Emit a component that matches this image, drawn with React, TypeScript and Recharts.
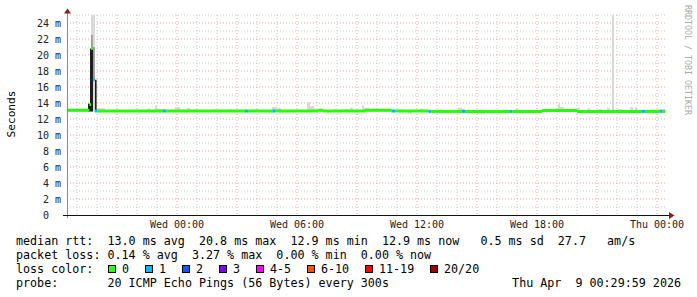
import React from "react";
import { ComposedChart, Area, XAxis, YAxis, CartesianGrid } from "recharts";

const MONO = "'DejaVu Sans Mono', monospace";

// x is hours since Tue 18:30, the graph spans 30 hours
const xTicks = [5.5, 11.5, 17.5, 23.5, 29.5];
const xTickLabels = ["Wed 00:00", "Wed 06:00", "Wed 12:00", "Wed 18:00", "Thu 00:00"];
const yTicks = [0, 2, 4, 6, 8, 10, 12, 14, 16, 18, 20, 22, 24];

// median rtt steps: [hour, ms, lost pings of 20]
const medianSteps: [number, number, number][] = [
  [0.0, 13.1, 0],
  [1.12, 13.8, 0],
  [1.2, 20.8, 0],
  [1.29, 16.9, 1],
  [1.39, 13.0, 1],
  [1.5, 13.0, 0],
  [4.8, 13.0, 1],
  [4.97, 13.0, 0],
  [8.9, 13.0, 1],
  [9.05, 13.0, 0],
  [10.27, 13.0, 1],
  [10.4, 13.0, 0],
  [12.55, 13.1, 0],
  [12.8, 13.0, 0],
  [14.9, 13.1, 0],
  [16.23, 13.0, 1],
  [16.4, 13.0, 0],
  [18.07, 12.95, 1],
  [18.23, 12.95, 0],
  [19.73, 12.95, 1],
  [19.9, 12.95, 0],
  [22.15, 12.95, 1],
  [22.28, 12.95, 0],
  [23.75, 13.05, 0],
  [25.5, 12.95, 0],
  [28.75, 12.95, 1],
  [28.9, 12.95, 0],
  [29.65, 12.95, 1],
  [29.78, 12.95, 0],
];
const medianEnd = 29.9;

// light smoke steps: [hour, low ms, high ms]
const smokeLight: [number, number, number][] = [
  [0.0, 12.9, 13.25], [0.25, 12.9, 13.1], [0.3, 12.9, 13.25], [0.5, 12.9, 13.1],
  [1.2, 12.9, 25.0], [1.4, 12.9, 13.1],
  [1.5, 12.9, 13.35], [1.9, 12.9, 13.1],
  [4.0, 12.9, 13.3], [4.15, 12.9, 13.1], [4.4, 12.9, 13.7], [4.5, 12.9, 13.25], [4.9, 12.9, 13.1],
  [5.4, 12.9, 13.5], [5.65, 12.9, 13.1], [6.0, 12.9, 13.4], [6.15, 12.9, 13.1],
  [6.4, 12.9, 13.25], [6.5, 12.9, 13.1], [7.25, 12.9, 13.2], [7.5, 12.9, 13.1],
  [8.0, 12.9, 13.2], [8.25, 12.9, 13.1], [8.65, 12.9, 13.2], [8.75, 12.9, 13.1],
  [9.4, 12.9, 13.25], [9.55, 12.9, 13.1],
  [10.25, 12.9, 13.5], [10.5, 12.9, 13.4], [10.7, 12.9, 13.1],
  [11.2, 12.9, 13.2], [11.3, 12.9, 13.1],
  [12.0, 12.9, 14.1], [12.15, 12.9, 13.6], [12.35, 12.9, 13.3], [12.5, 12.9, 13.1],
  [13.6, 12.9, 13.2], [13.85, 12.9, 13.25], [14.1, 12.9, 13.1],
  [14.15, 12.9, 13.4], [14.3, 12.9, 13.1],
  [14.75, 12.9, 13.7], [14.85, 12.9, 13.4], [15.1, 12.9, 13.1],
  [15.25, 12.9, 13.2], [15.5, 12.9, 13.1],
  [16.55, 12.9, 13.2], [16.8, 12.9, 13.1], [17.05, 12.65, 13.1], [17.25, 12.9, 13.1],
  [17.65, 12.9, 13.3], [17.8, 12.9, 13.1],
  [18.55, 12.9, 13.2], [18.75, 12.9, 13.1],
  [19.55, 12.9, 13.4], [19.75, 12.9, 13.25], [19.9, 12.9, 13.1],
  [20.5, 12.6, 13.1], [20.65, 12.6, 13.2], [20.9, 12.9, 13.1],
  [21.8, 12.9, 13.2], [21.9, 12.9, 13.1],
  [22.4, 12.9, 13.25], [22.55, 12.9, 13.2], [22.7, 12.9, 13.1],
  [24.15, 12.9, 13.25], [24.3, 12.9, 13.1],
  [24.55, 12.9, 13.9], [24.65, 12.9, 13.5], [24.85, 12.9, 13.1],
  [25.5, 12.9, 13.4], [25.65, 12.9, 13.1], [26.0, 12.9, 13.3], [26.15, 12.9, 13.1],
  [26.55, 12.9, 13.25], [26.75, 12.9, 13.1],
  [27.0, 12.9, 13.4], [27.15, 12.9, 13.1], [27.25, 12.9, 25.0], [27.35, 12.9, 13.1],
  [27.55, 12.9, 13.25], [27.75, 12.9, 13.1],
  [28.15, 12.9, 13.5], [28.3, 12.9, 13.1], [28.4, 12.9, 13.5], [28.5, 12.9, 13.1],
  [29.15, 12.9, 13.2], [29.5, 12.9, 13.1], [29.55, 12.9, 13.25],
];
const smokeLightEnd = 29.9;

// denser smoke around the early spike
const smokeMid: [number, number, number][] = [
  [1.2, 20.8, 22.5], [1.29, 16.9, 21.0], [1.39, 13.0, 13.0],
];
const smokeMidEnd = 1.5;
const smokeDark: [number, number, number][] = [
  [1.05, 12.95, 13.9], [1.15, 12.95, 20.8], [1.3, 13.0, 13.0], [1.4, 12.95, 16.9],
];
const smokeDarkEnd = 1.48;

const lossLabels = ["0", "1", "2", "3", "4-5", "6-10", "11-19", "20/20"];
const lossColors = ["#26ff00", "#00b8ff", "#0059ff", "#7e00ff", "#ff00ff", "#ff5500", "#ff0000", "#a10000"];

const statsLines = [
  "median rtt:  13.0 ms avg  20.8 ms max  12.9 ms min  12.9 ms now   0.5 ms sd  27.7   am/s",
  "packet loss: 0.14 % avg  3.27 % max  0.00 % min  0.00 % now",
];
const probeLine = "probe:       20 ICMP Echo Pings (56 Bytes) every 300s";
const stampText = "Thu Apr  9 00:29:59 2026";

function lossIndex(lost: number) {
  if (lost <= 3) return lost;
  if (lost <= 5) return 4;
  if (lost <= 10) return 5;
  if (lost <= 19) return 6;
  return 7;
}

type Pt = { t: number; band: [number, number] };

// each step becomes a flat band; runs of one colour share an Area
const HALF = 0.19;
function medianRuns() {
  const runs: { color: string; pts: Pt[] }[] = [];
  medianSteps.forEach(([t, v, lost], i) => {
    const t1 = i + 1 < medianSteps.length ? medianSteps[i + 1][0] : medianEnd;
    const color = lossColors[lossIndex(lost)];
    let run = runs[runs.length - 1];
    if (!run || run.color !== color) {
      run = { color, pts: [] };
      runs.push(run);
    }
    const band: [number, number] = [v - HALF, v + HALF];
    run.pts.push({ t, band }, { t: t1, band });
  });
  return runs;
}

function stepBands(steps: [number, number, number][], end: number): Pt[] {
  const out: Pt[] = [];
  steps.forEach(([t, lo, hi], i) => {
    const t1 = i + 1 < steps.length ? steps[i + 1][0] : end;
    out.push({ t, band: [lo, hi] }, { t: t1, band: [lo, hi] });
  });
  return out;
}

const minorY = Array.from({ length: 13 }, (_, i) => i * 2 + 1);
const majorY = yTicks.slice(1);
const minorX = Array.from({ length: 30 }, (_, i) => i + 0.5).filter((h) => (h - 2.5) % 3 !== 0);
const majorX = Array.from({ length: 10 }, (_, i) => i * 3 + 2.5);

function XTick(props: any) {
  const { x, payload } = props;
  return (
    <text x={x} y={228} textAnchor="middle" fontFamily={MONO} fontSize={10} fill="#222">
      {xTickLabels[xTicks.indexOf(payload.value)]}
    </text>
  );
}

function YTick(props: any) {
  const { y, payload } = props;
  const v = payload.value;
  return (
    <text x={v === 0 ? 49 : 61} y={y + 3.6} textAnchor="end" fontFamily={MONO} fontSize={10} fill="#222">
      {v === 0 ? "0" : `${v} m`}
    </text>
  );
}

export default function App() {
  const runs = medianRuns();
  let legendX = 108;
  const legendItems = lossLabels.map((label, i) => {
    const x = legendX;
    legendX += 30 + 7 * label.length;
    return { label, color: lossColors[i], x };
  });

  return (
    <div style={{ position: "absolute", left: 0, top: 0, width: 697, height: 297, background: "#fff" }}>
      <ComposedChart width={697} height={297} margin={{ top: 15, right: 30, bottom: 62, left: 0 }}>
        <CartesianGrid
          horizontalValues={minorY}
          verticalValues={minorX}
          stroke="#c8c8c8"
          strokeDasharray="1 2"
        />
        <CartesianGrid
          horizontalValues={majorY}
          verticalValues={majorX}
          stroke="#eaa4a4"
          strokeDasharray="1 2"
        />
        <XAxis
          type="number"
          dataKey="t"
          domain={[0, 30]}
          ticks={xTicks}
          interval={0}
          tick={<XTick />}
          axisLine={false}
          tickLine={false}
          height={20}
          allowDataOverflow
        />
        <YAxis
          type="number"
          domain={[0, 25]}
          ticks={yTicks}
          interval={0}
          tick={<YTick />}
          axisLine={false}
          tickLine={false}
          width={67}
          allowDataOverflow
        />
        <Area
          data={stepBands(smokeLight, smokeLightEnd)}
          dataKey="band"
          type="linear"
          stroke="none"
          fill="#d9d9d9"
          fillOpacity={1}
          dot={false}
          activeDot={false}
          isAnimationActive={false}
        />
        <Area
          data={stepBands(smokeMid, smokeMidEnd)}
          dataKey="band"
          type="linear"
          stroke="none"
          fill="#9a9a9a"
          fillOpacity={1}
          dot={false}
          activeDot={false}
          isAnimationActive={false}
        />
        <Area
          data={stepBands(smokeDark, smokeDarkEnd)}
          dataKey="band"
          type="linear"
          stroke="none"
          fill="#1e1e1e"
          fillOpacity={1}
          dot={false}
          activeDot={false}
          isAnimationActive={false}
        />
        {runs.map((run, i) => (
          <Area
            key={i}
            data={run.pts}
            dataKey="band"
            type="linear"
            stroke="none"
            fill={run.color}
            fillOpacity={1}
            dot={false}
            activeDot={false}
            isAnimationActive={false}
          />
        ))}
      </ComposedChart>

      <svg
        width={697}
        height={297}
        style={{ position: "absolute", left: 0, top: 0, pointerEvents: "none" }}
      >
        <line x1={67.5} y1={12} x2={67.5} y2={218} stroke="#8a8a8a" />
        <line x1={63} y1={215.5} x2={670} y2={215.5} stroke="#111" />
        <polygon points="64,13.5 71,13.5 67.5,8.5" fill="#8b1c1c" />
        <polygon points="669,212 669,219 674.5,215.5" fill="#8b1c1c" />

        <text
          x={15}
          y={114}
          transform="rotate(-90 15 114)"
          textAnchor="middle"
          fontFamily={MONO}
          fontSize={11.2}
          fill="#000"
        >
          Seconds
        </text>
        <text
          x={685}
          y={5}
          transform="rotate(90 685 5)"
          fontFamily={MONO}
          fontSize={8.3}
          fill="#aaaaaa"
          style={{ whiteSpace: "pre" }}
        >
          RRDTOOL / TOBI OETIKER
        </text>

        {statsLines.map((s, i) => (
          <text
            key={i}
            x={16}
            y={245 + i * 14}
            fontFamily={MONO}
            fontSize={11.7}
            fill="#000"
            style={{ whiteSpace: "pre" }}
          >
            {s}
          </text>
        ))}
        <text x={16} y={273} fontFamily={MONO} fontSize={11.7} fill="#000" style={{ whiteSpace: "pre" }}>
          loss color:
        </text>
        {legendItems.map((it) => (
          <g key={it.label}>
            <rect x={it.x + 0.5} y={265.5} width={7} height={7} fill={it.color} stroke="#000" />
            <text x={it.x + 14} y={273} fontFamily={MONO} fontSize={11.7} fill="#000">
              {it.label}
            </text>
          </g>
        ))}
        <text x={16} y={287} fontFamily={MONO} fontSize={11.7} fill="#000" style={{ whiteSpace: "pre" }}>
          {probeLine}
        </text>
        <text x={681} y={287} textAnchor="end" fontFamily={MONO} fontSize={11.7} fill="#000" style={{ whiteSpace: "pre" }}>
          {stampText}
        </text>
      </svg>
    </div>
  );
}
